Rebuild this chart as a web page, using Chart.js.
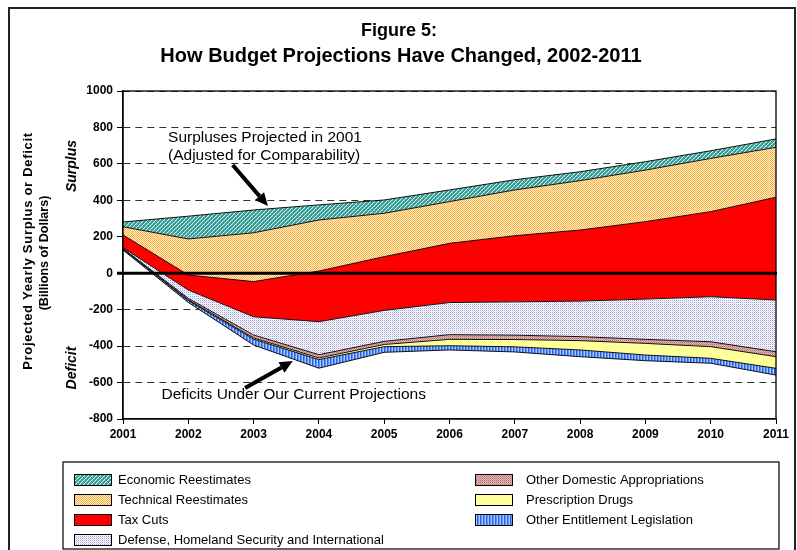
<!DOCTYPE html>
<html><head><meta charset="utf-8">
<script src="https://cdn.jsdelivr.net/npm/chart.js@4.4.1/dist/chart.umd.min.js"></script>
<style>html,body{margin:0;padding:0;background:#fff}#wrap{width:797px;height:550px;position:relative}</style>
</head><body><div id="wrap"><canvas id="c" width="797" height="550"></canvas></div>
<script>
// ---- data (billions of dollars) ----
const years = ['2001','2002','2003','2004','2005','2006','2007','2008','2009','2010','2011'];
const yTicks = [-800,-600,-400,-200,0,200,400,600,800,1000];
// deficits/surpluses under current projections (bottom line)
const currentProjection   = [127, -160, -394, -521, -434, -421, -432, -458, -480, -494, -559];
// contributions to the change (layers stacked from the bottom line upward)
const otherEntitlement    = [5, 10, 32, 47, 31, 23, 28, 37, 31, 27, 37];
const prescriptionDrugs   = [2, 4, 7, 9, 12, 35, 40, 51, 64, 64, 64];
const otherDomestic       = [2, 8, 16, 18, 17, 26, 24, 22, 22, 27, 27];
const defenseHomeland     = [4, 46, 100, 181, 170, 176, 183, 195, 221, 247, 284];
const taxCuts             = [70, 82, 193, 278, 295, 325, 363, 390, 425, 467, 564];
const technicalReest      = [45, 198, 268, 280, 238, 229, 251, 271, 283, 292, 274];
const economicReest       = [26, 125, 125, 83, 73, 64, 56, 49, 46, 42, 46];

const FONT = "'Liberation Sans', Arial, Helvetica, sans-serif";
const canvas = document.getElementById('c');
const ctx0 = canvas.getContext('2d');

function pattern(w, h, bg, px) {
  const c = document.createElement('canvas'); c.width = w; c.height = h;
  const x = c.getContext('2d');
  x.fillStyle = bg; x.fillRect(0, 0, w, h);
  px.forEach(([a, b, col]) => { x.fillStyle = col; x.fillRect(a, b, 1, 1); });
  return ctx0.createPattern(c, 'repeat');
}
const pTeal = pattern(4, 4, '#379c95', [[0,3,'#d8f2ee'],[1,2,'#d8f2ee'],[2,1,'#d8f2ee'],[3,0,'#d8f2ee'],[0,0,'#72beb8'],[2,2,'#72beb8']]);
const pOrange = pattern(2, 2, '#fff2cc', [[0,0,'#ffa73a'],[1,1,'#ffb24c']]);
const pDefense = pattern(2, 2, '#ffffff', [[0,0,'#a0a0d6'],[1,1,'#dedef4']]);
const pPink = pattern(2, 2, '#e3b6b6', [[0,0,'#b06d6d'],[1,1,'#cc9494']]);
const pBlue = pattern(3, 1, '#5d93ff', [[0,0,'#2a62e0'],[2,0,'#a9c8ff']]);

// cumulative boundaries built from the layer arrays
const layers = [
  {label:'Other Entitlement Legislation', data: otherEntitlement, bg: pBlue},
  {label:'Prescription Drugs', data: prescriptionDrugs, bg: '#ffff99'},
  {label:'Other Domestic Appropriations', data: otherDomestic, bg: pPink},
  {label:'Defense, Homeland Security and International', data: defenseHomeland, bg: pDefense},
  {label:'Tax Cuts', data: taxCuts, bg: '#ff0000'},
  {label:'Technical Reestimates', data: technicalReest, bg: pOrange},
  {label:'Economic Reestimates', data: economicReest, bg: pTeal},
];
const datasets = [{
  label: 'Deficits Under Our Current Projections', data: currentProjection.slice(),
  borderColor: '#111', borderWidth: 1, pointRadius: 0, fill: false, tension: 0
}];
let running = currentProjection.slice();
layers.forEach(l => {
  running = running.map((v, i) => v + l.data[i]);
  datasets.push({label: l.label, data: running.slice(), backgroundColor: l.bg,
    borderColor: '#111', borderWidth: 1, pointRadius: 0, fill: '-1', tension: 0});
});

const legendCols = [
  ['Economic Reestimates','Technical Reestimates','Tax Cuts','Defense, Homeland Security and International'],
  ['Other Domestic Appropriations','Prescription Drugs','Other Entitlement Legislation']
];

function arrow(ctx, x1, y1, x2, y2) {
  const ang = Math.atan2(y2 - y1, x2 - x1), L = 13, W = 6;
  const bx = x2 - L * Math.cos(ang), by = y2 - L * Math.sin(ang);
  ctx.save();
  ctx.strokeStyle = '#000'; ctx.fillStyle = '#000'; ctx.lineWidth = 4;
  ctx.beginPath(); ctx.moveTo(x1, y1); ctx.lineTo(bx, by); ctx.stroke();
  ctx.beginPath(); ctx.moveTo(x2, y2);
  ctx.lineTo(bx + W * Math.sin(ang), by - W * Math.cos(ang));
  ctx.lineTo(bx - W * Math.sin(ang), by + W * Math.cos(ang));
  ctx.closePath(); ctx.fill();
  ctx.restore();
}

const decor = {
  id: 'decor',
  afterDatasetsDraw(chart) {
    const {ctx, chartArea: a, scales: {x, y}} = chart;
    ctx.save();
    // zero line
    const y0 = y.getPixelForValue(0);
    ctx.strokeStyle = '#000'; ctx.lineWidth = 3;
    ctx.beginPath(); ctx.moveTo(a.left - 6, y0); ctx.lineTo(a.right + 1, y0); ctx.stroke();
    // plot border
    ctx.lineWidth = 1.3;
    ctx.strokeRect(a.left, a.top, a.right - a.left, a.bottom - a.top);
    // annotations
    ctx.fillStyle = '#000';
    ctx.font = '15.5px ' + FONT;
    ctx.textBaseline = 'middle'; ctx.textAlign = 'left';
    ctx.fillText('Surpluses Projected in 2001', x.getPixelForValue(0.69), y.getPixelForValue(744));
    ctx.fillText('(Adjusted for Comparability)', x.getPixelForValue(0.69), y.getPixelForValue(643));
    ctx.fillText('Deficits Under Our Current Projections', x.getPixelForValue(0.59), y.getPixelForValue(-668));
    arrow(ctx, x.getPixelForValue(1.68), y.getPixelForValue(594), x.getPixelForValue(2.22), y.getPixelForValue(369));
    arrow(ctx, x.getPixelForValue(1.87), y.getPixelForValue(-630), x.getPixelForValue(2.60), y.getPixelForValue(-482));
    ctx.restore();
  },
  afterDraw(chart) {
    const {ctx} = chart;
    ctx.save();
    // outer frame
    ctx.strokeStyle = '#222'; ctx.lineWidth = 2;
    ctx.strokeRect(9, 8, 786, 600);
    // title
    ctx.fillStyle = '#000'; ctx.textAlign = 'center'; ctx.textBaseline = 'middle';
    ctx.font = 'bold 18px ' + FONT;
    ctx.fillText('Figure 5:', 399, 31);
    ctx.font = 'bold 20px ' + FONT;
    ctx.fillText('How Budget Projections Have Changed, 2002-2011', 401, 56);
    // y-axis titles (rotated)
    const rot = (txt, cx, cy, font, ls) => {
      ctx.save(); ctx.translate(cx, cy); ctx.rotate(-Math.PI / 2);
      ctx.font = font; if (ls) ctx.letterSpacing = ls;
      ctx.fillText(txt, 0, 0); ctx.restore();
    };
    rot('Projected Yearly Surplus or Deficit', 28, 251, 'bold 13px ' + FONT, '0.7px');
    rot('(Billions of Dollars)', 45, 253, 'bold 12.5px ' + FONT);
    rot('Surplus', 72, 166, 'italic bold 14px ' + FONT);
    rot('Deficit', 72, 368, 'italic bold 14px ' + FONT);
    // legend box
    ctx.lineWidth = 1.2; ctx.strokeStyle = '#000';
    ctx.strokeRect(63, 462, 716, 87);
    const colX = [[74, 118], [475, 526]];
    const rowY = [480, 500, 520, 540];
    ctx.font = '13px ' + FONT; ctx.textAlign = 'left';
    legendCols.forEach((col, ci) => col.forEach((lab, ri) => {
      const ds = chart.data.datasets.find(d => d.label === lab);
      const sx = colX[ci][0], sy = rowY[ri] - 6;
      ctx.fillStyle = ds.backgroundColor; ctx.fillRect(sx, sy, 38, 12);
      ctx.lineWidth = 1; ctx.strokeStyle = '#000'; ctx.strokeRect(sx + 0.5, sy + 0.5, 37, 11);
      ctx.fillStyle = '#000'; ctx.fillText(lab, colX[ci][1], rowY[ri]);
    }));
    ctx.restore();
  }
};

new Chart(canvas, {
  type: 'line',
  data: {labels: years, datasets},
  options: {
    responsive: false, animation: false, events: [],
    layout: {padding: {top: 91, right: 21, bottom: 101, left: 0}},
    plugins: {legend: {display: false}, title: {display: false}, tooltip: {enabled: false}},
    scales: {
      x: {
        type: 'category', offset: false,
        afterFit: s => { s.height = 30; },
        grid: {drawOnChartArea: false, drawTicks: true, tickLength: 5, tickColor: '#000'},
        border: {display: true, color: '#000', width: 1.3},
        ticks: {color: '#000', font: {family: FONT, size: 12, weight: 'bold'}, padding: 3, maxRotation: 0, autoSkip: false}
      },
      y: {
        min: -800, max: 1000,
        afterFit: s => { s.width = 123; },
        afterBuildTicks: s => { s.ticks = yTicks.map(v => ({value: v})); },
        grid: {
          color: c => (c.tick && (c.tick.value === 0 || c.tick.value === -800)) ? 'rgba(0,0,0,0)' : '#333',
          lineWidth: 1, drawTicks: true, tickLength: 6, tickColor: '#000', tickBorderDash: []
        },
        border: {display: true, color: '#000', width: 1.3, dash: [7, 5]},
        ticks: {color: '#000', font: {family: FONT, size: 12, weight: 'bold'}, padding: 4, callback: v => String(v)}
      }
    }
  },
  plugins: [decor]
});
</script>
</body></html>
